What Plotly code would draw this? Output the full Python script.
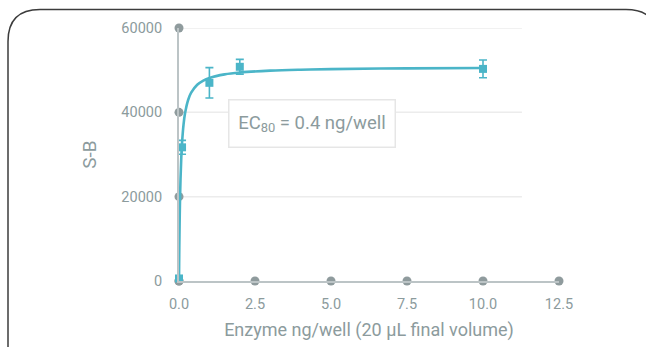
import plotly.graph_objects as go

# ---- data ----
enzyme = [0.0, 0.1, 1.0, 2.0, 10.0]
signal = [600, 31700, 47000, 50800, 50300]
signal_err = [300, 1650, 3600, 1750, 2100]

fit_x = [0, 0.005, 0.01, 0.02, 0.03, 0.05, 0.075, 0.1, 0.15, 0.2, 0.3, 0.4, 0.6, 0.8,
         1.0, 1.5, 2.0, 3.0, 4.0, 5.0, 7.5, 10.0]
fit_y = [0, 4230, 7800, 13550, 17930, 24190, 29300, 32770, 37170, 39840, 42930, 44660,
         46530, 47530, 48150, 49000, 49440, 49880, 50110, 50250, 50430, 50520]

x_ticks = [0, 2.5, 5.0, 7.5, 10.0, 12.5]
x_tick_labels = ["0.0", "2.5", "5.0", "7.5", "10.0", "12.5"]
y_ticks = [0, 20000, 40000, 60000]
y_tick_labels = ["0", "20000", "40000", "60000"]

x_title = "Enzyme ng/well (20 µL final volume)"
y_title = "S-B"
ec_label = "EC<sub>80</sub> = 0.4 ng/well"

# ---- style ----
W, H = 646, 347
L, R, T, B = 179, 87, 28, 66
TEAL = "#4bb5c8"
TXT = "#8c9b9d"
DOT = "#8f9b9d"
AXIS = "#bcc4c6"
GRID = "#ececec"
FONT = "Roboto, 'DejaVu Sans', sans-serif"

pw, ph = W - L - R, H - T - B


def px(xp):
    return (xp - L) / pw


def py(yp):
    return (H - B - yp) / ph


fig = go.Figure()

# tick dots on axes
fig.add_trace(go.Scatter(
    x=[0] * len(y_ticks) + x_ticks, y=y_ticks + [0] * len(x_ticks),
    mode="markers", marker=dict(color=DOT, size=9), cliponaxis=False,
    hoverinfo="skip", showlegend=False))

# fitted curve
fig.add_trace(go.Scatter(
    x=fit_x, y=fit_y, mode="lines", line=dict(color=TEAL, width=2.6, shape="spline"),
    cliponaxis=False, showlegend=False))

# data points
fig.add_trace(go.Scatter(
    x=enzyme, y=signal, mode="markers",
    marker=dict(symbol="square", color=TEAL, size=8),
    error_y=dict(type="data", array=signal_err, color=TEAL, thickness=1.6, width=4),
    cliponaxis=False, showlegend=False))

shapes = []
grid_end = 11.28
for yv in y_ticks[1:]:
    shapes.append(dict(type="line", xref="x", yref="y", x0=0, x1=grid_end, y0=yv, y1=yv,
                       line=dict(color=GRID, width=1.5), layer="below"))

# rounded outer frame
lft, top, rgt, bot, r = 8, 9.5, 658, 380, 32
path = (f"M {px(lft)},{py(bot)} L {px(lft)},{py(top + r)} "
        f"Q {px(lft)},{py(top)} {px(lft + r)},{py(top)} "
        f"L {px(rgt - r)},{py(top)} Q {px(rgt)},{py(top)} {px(rgt)},{py(top + r)} "
        f"L {px(rgt)},{py(bot)}")
shapes.append(dict(type="path", xref="paper", yref="paper", path=path,
                   line=dict(color="#3c3c3c", width=1.5)))

fig.update_layout(
    width=W, height=H,
    margin=dict(l=L, r=R, t=T, b=B),
    paper_bgcolor="white", plot_bgcolor="white",
    font=dict(family=FONT, color=TXT, size=14),
    shapes=shapes,
    xaxis=dict(range=[0, 12.5], tickvals=x_ticks, ticktext=x_tick_labels, automargin=False,
               showgrid=False, zeroline=False, showline=True, linecolor=AXIS, linewidth=2,
               ticks="outside", ticklen=9, tickcolor="rgba(0,0,0,0)",
               tickfont=dict(size=14.5, color=TXT),
               title=dict(text=x_title, font=dict(size=18, color=TXT), standoff=11)),
    yaxis=dict(range=[0, 60000], tickvals=y_ticks, ticktext=y_tick_labels, automargin=False,
               showgrid=False, zeroline=False, showline=True, linecolor=AXIS, linewidth=2,
               ticks="outside", ticklen=12, tickcolor="rgba(0,0,0,0)",
               tickfont=dict(size=14.5, color=TXT),
               title=dict(text=y_title, font=dict(size=19, color=TXT), standoff=20)),
    annotations=[dict(
        x=px(311.5), y=py(123.5), xref="paper", yref="paper", text=ec_label,
        showarrow=False, font=dict(size=18.5, color=TXT), bgcolor="white",
        bordercolor="#e6e6e6", borderwidth=1.5, width=163, height=44,
        xanchor="center", yanchor="middle")],
)

fig.write_html("out.html")
